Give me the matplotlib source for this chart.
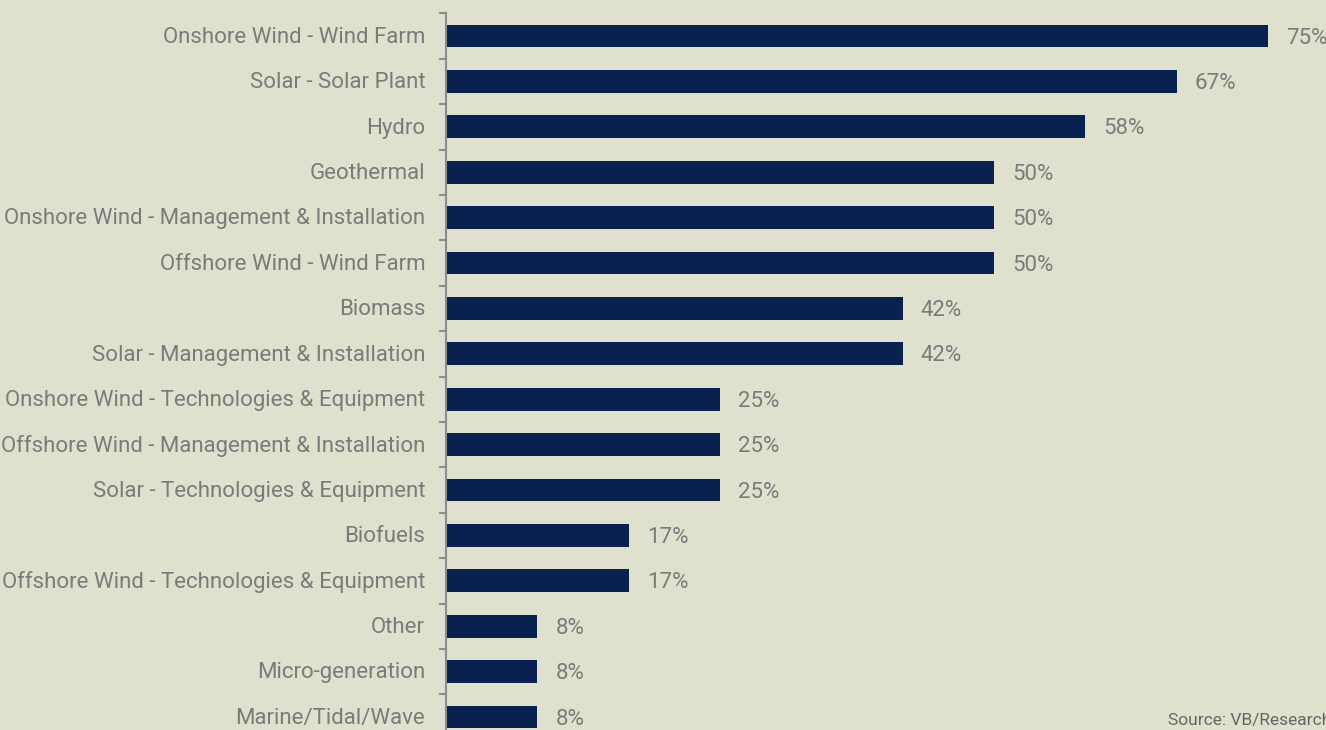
import matplotlib.pyplot as plt
import numpy as np

# share of respondents active in each sector (n = 12)
sectors = [
    'Onshore Wind - Wind Farm',
    'Solar - Solar Plant',
    'Hydro',
    'Geothermal',
    'Onshore Wind - Management & Installation',
    'Offshore Wind - Wind Farm',
    'Biomass',
    'Solar - Management & Installation',
    'Onshore Wind - Technologies & Equipment',
    'Offshore Wind - Management & Installation',
    'Solar - Technologies & Equipment',
    'Biofuels',
    'Offshore Wind - Technologies & Equipment',
    'Other',
    'Micro-generation',
    'Marine/Tidal/Wave',
]
counts = [9, 8, 7, 6, 6, 6, 5, 5, 3, 3, 3, 2, 2, 1, 1, 1]
n_resp = 12
share = [100 * c / n_resp for c in counts]

BG = '#e0e0cf'
NAVY = '#08214f'
GREY = '#7b7b7b'

plt.rcParams['font.family'] = ['Roboto', 'DejaVu Sans']

W, H = 1326, 730
fig = plt.figure(figsize=(W / 100, H / 100), dpi=100, facecolor=BG)

# axes placed in pixels: left spine at x=446, rows 45.4 px apart from y=13
x0, top, pitch, px_per_pct = 446, 13.3, 45.4, 10.96
xmax = 80
ax_h = pitch * len(sectors)
ax = fig.add_axes([x0 / W, (H - top - ax_h) / H, xmax * px_per_pct / W, ax_h / H])
ax.set_facecolor(BG)

y = np.arange(len(sectors))
ax.barh(y, share, height=0.5, color=NAVY)
ax.set_xlim(0, xmax)
ax.set_ylim(len(sectors) - 0.5, -0.5)

for yi, v in zip(y, share):
    ax.annotate(f'{v:.0f}%', (v, yi), xytext=(13, -1.5), textcoords='offset points',
                ha='left', va='center', fontsize=16, color=GREY, annotation_clip=False)

for sp in ['top', 'right', 'bottom']:
    ax.spines[sp].set_visible(False)
ax.spines['left'].set_color('#8c8c8c')
ax.spines['left'].set_linewidth(1.5)
ax.set_xticks([])

# category names as text, ticks between rows
ax.set_yticks(np.arange(len(sectors) + 1) - 0.5)
ax.set_yticklabels([])
ax.tick_params(axis='y', length=5, width=1.5, color='#8c8c8c', direction='out')
for yi, name in zip(y, sectors):
    ax.annotate(name, (0, yi), xytext=(-15, -1), textcoords='offset points',
                ha='right', va='center', fontsize=16, color=GREY, annotation_clip=False)

fig.text(1168 / W, (H - 720) / H, 'Source: VB/Research', fontsize=12.5, color='#666666',
         ha='left', va='center')

fig.savefig('out.png', dpi=100, facecolor=BG)
